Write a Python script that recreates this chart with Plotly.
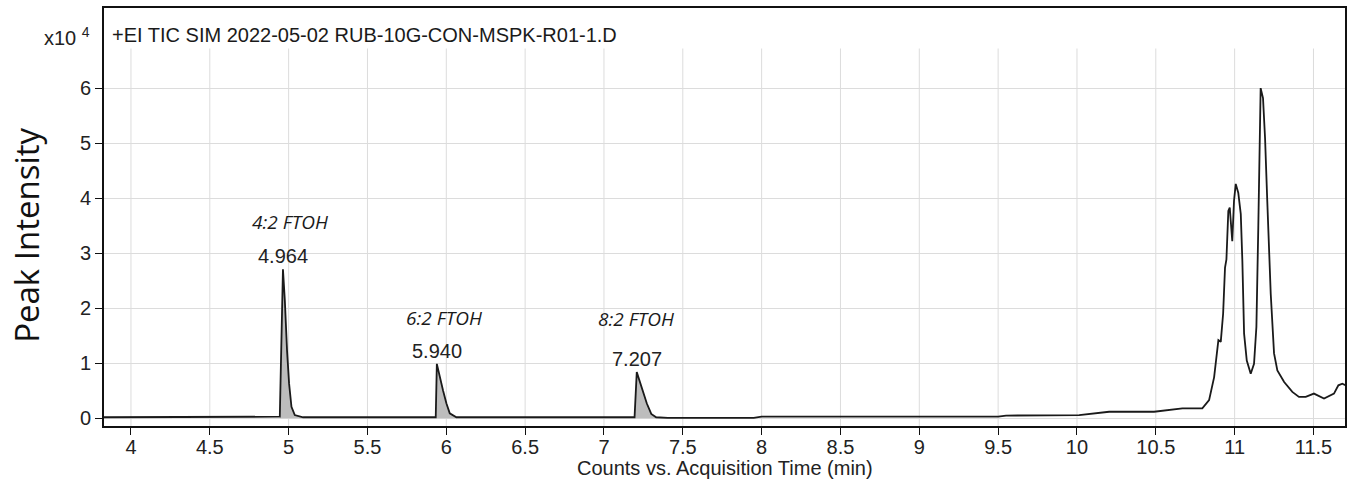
import numpy as np
import plotly.graph_objects as go

# ---- data (intensity in units of 10^4 counts) ----
time_min = [
    3.829, 4.30, 4.70, 4.944,
    4.964, 4.976, 4.990, 5.003, 5.018, 5.039, 5.092,
    5.40, 5.80, 5.933,
    5.940, 5.958, 5.979, 6.001, 6.022, 6.064,
    6.40, 6.80, 7.194,
    7.208, 7.243, 7.272, 7.300, 7.331, 7.405,
    7.70, 7.95, 8.00, 8.50, 9.00, 9.50, 9.55, 9.90, 10.014,
    10.204, 10.489, 10.669, 10.795, 10.838, 10.870, 10.897, 10.912, 10.927,
    10.939, 10.948, 10.960, 10.969, 10.985, 10.996, 11.007, 11.023, 11.039,
    11.049, 11.060, 11.077, 11.102, 11.123, 11.138, 11.150, 11.165, 11.180,
    11.193, 11.207, 11.229, 11.250, 11.271, 11.314, 11.366, 11.408, 11.451,
    11.503, 11.567, 11.630, 11.658, 11.683, 11.705,
]
intensity_e4 = [
    0.02, 0.02, 0.02, 0.03,
    2.71, 2.14, 1.23, 0.63, 0.21, 0.06, 0.02,
    0.02, 0.02, 0.02,
    0.99, 0.75, 0.51, 0.27, 0.09, 0.02,
    0.02, 0.02, 0.02,
    0.84, 0.51, 0.27, 0.08, 0.02, 0.01,
    0.01, 0.01, 0.03, 0.03, 0.03, 0.03, 0.05, 0.05, 0.06,
    0.12, 0.12, 0.18, 0.18, 0.33, 0.75, 1.42, 1.39, 1.90,
    2.74, 2.89, 3.77, 3.83, 3.22, 3.95, 4.26, 4.10, 3.71,
    2.86, 1.54, 1.05, 0.81, 0.99, 1.66, 3.46, 6.00, 5.82,
    5.09, 3.95, 2.26, 1.18, 0.87, 0.66, 0.48, 0.39, 0.39,
    0.45, 0.36, 0.45, 0.60, 0.63, 0.60,
]

peak_names = ["4:2 FTOH", "6:2 FTOH", "8:2 FTOH"]
peak_rt = [4.964, 5.940, 7.207]
peak_height = [2.71, 0.99, 0.84]
peak_start = [4.944, 5.933, 7.194]
peak_end = [5.092, 6.064, 7.405]

x_ticks = [4, 4.5, 5, 5.5, 6, 6.5, 7, 7.5, 8, 8.5, 9, 9.5, 10, 10.5, 11, 11.5]
y_ticks = [0, 1, 2, 3, 4, 5, 6]

# ---- figure ----
t = np.array(time_min)
v = np.array(intensity_e4)

X_RANGE = [3.829, 11.70]
Y_RANGE = [-0.139, 7.456]

fig = go.Figure()

for s, e in zip(peak_start, peak_end):
    m = (t >= s) & (t <= e)
    fig.add_trace(go.Scatter(
        x=t[m], y=v[m], mode="lines", fill="tozeroy",
        fillcolor="#bdbdbd", line=dict(width=0, color="rgba(0,0,0,0)"),
        hoverinfo="skip", showlegend=False))

fig.add_trace(go.Scatter(
    x=t, y=v, mode="lines", line=dict(color="#1a1a1a", width=1.8),
    showlegend=False))

# vertical grid lines (stop below the header)
for xv in x_ticks:
    fig.add_shape(type="line", xref="x", yref="y", x0=xv, x1=xv,
                  y0=Y_RANGE[0], y1=6.72, line=dict(color="#dcdcdc", width=1),
                  layer="below")

annotations = []
for name, rt, h, lx, ly in zip(peak_names, peak_rt, peak_height,
                               [5.011, 5.984, 7.200], [3.57, 1.83, 1.81]):
    annotations.append(dict(
        x=rt, y=h, xref="x", yref="y", text=f"{rt:.3f}", showarrow=False,
        yanchor="bottom", xanchor="center", yshift=0,
        font=dict(family="Liberation Sans, Arial", size=20, color="#222222")))
    annotations.append(dict(
        x=lx, y=ly, xref="x", yref="y", text=f"<i>{name}</i>", showarrow=False,
        xanchor="center", yanchor="middle",
        font=dict(family="Open Sans", size=19, color="#1a1a1a")))

annotations += [
    dict(x=0.005, y=0.936, xref="paper", yref="paper", xanchor="left",
         yanchor="middle", showarrow=False,
         text="+EI TIC SIM 2022-05-02 RUB-10G-CON-MSPK-R01-1.D",
         font=dict(family="Liberation Sans, Arial", size=20, color="#1a1a1a")),
    dict(x=-0.0095, y=0.933, xref="paper", yref="paper", xanchor="right",
         yanchor="middle", showarrow=False, text="x10 <sup>4</sup>",
         font=dict(family="Liberation Sans, Arial", size=20, color="#222222")),
    dict(x=-0.062, y=0.455, xref="paper", yref="paper", xanchor="center",
         yanchor="middle", showarrow=False, text="Peak Intensity", textangle=-90,
         font=dict(family="Open Sans", size=33, color="#111111")),
    dict(x=0.5, y=-0.1, xref="paper", yref="paper", xanchor="center",
         yanchor="middle", showarrow=False,
         text="Counts vs. Acquisition Time (min)",
         font=dict(family="Liberation Sans, Arial", size=20, color="#222222")),
]

fig.update_layout(
    width=1355, height=489,
    margin=dict(l=104, r=10, t=6, b=63),
    paper_bgcolor="white", plot_bgcolor="white",
    annotations=annotations,
    xaxis=dict(range=X_RANGE, tickvals=x_ticks,
               ticktext=[f"{x:g}" for x in x_ticks],
               showgrid=False, zeroline=False,
               showline=True, linecolor="#111111", linewidth=2, mirror=True,
               ticks="outside", ticklen=7, tickcolor="#111111",
               ticklabelstandoff=-5,
               tickfont=dict(family="Liberation Sans, Arial", size=20, color="#222222")),
    yaxis=dict(range=Y_RANGE, tickvals=y_ticks,
               showgrid=True, gridcolor="#dcdcdc", gridwidth=1, zeroline=False,
               showline=True, linecolor="#111111", linewidth=2, mirror=True,
               ticks="outside", ticklen=7, tickcolor="#111111",
               tickfont=dict(family="Liberation Sans, Arial", size=20, color="#222222")),
)

fig.write_html("out.html",
               config={"displayModeBar": False},
               post_script="document.body.style.margin='0';"
                           "document.body.style.overflow='hidden';")
